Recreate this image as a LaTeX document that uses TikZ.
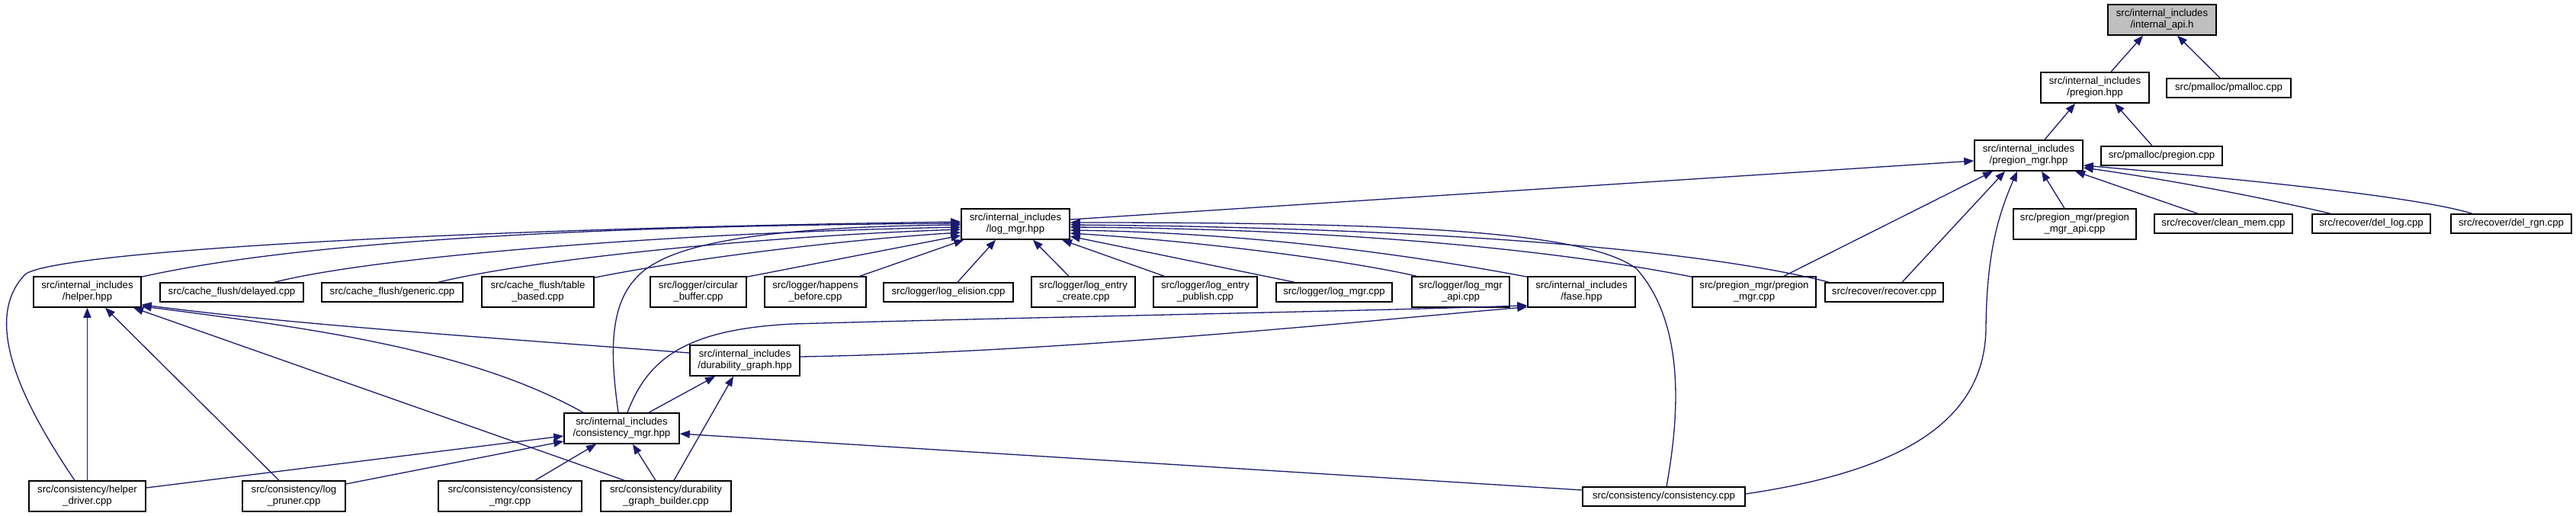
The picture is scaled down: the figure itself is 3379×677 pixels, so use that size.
\documentclass[tikz,border=0pt]{standalone}
\usepackage{fontspec}
\setmainfont{Liberation Sans}
\usetikzlibrary{arrows.meta}
\definecolor{edgeblue}{RGB}{25,25,112}
\definecolor{hilite}{RGB}{191,191,191}
\tikzset{
  box/.style={draw=black, line width=1.5pt, fill=white, inner sep=0pt, align=center,
    font=\fontsize{13.2}{15}\selectfont, minimum height=40pt},
  onebox/.style={box, minimum height=25pt},
  edge/.style={draw=edgeblue, line width=1.3pt, -{Triangle[length=13pt,width=10pt]}},
}
\begin{document}
\begin{tikzpicture}[x=1pt,y=-1pt]
\useasboundingbox (0,0) rectangle (3379,677);
\fill[white] (0,0) rectangle (3379,677);

% nodes
\node[box, fill=hilite, minimum width=142pt] (api) at (2836,26) {src/internal\_includes\\/internal\_api.h};
\node[box, minimum width=142pt] (pregion) at (2748,115) {src/internal\_includes\\/pregion.hpp};
\node[onebox, minimum width=163pt] (pmalloc) at (2923.5,115.5) {src/pmalloc/pmalloc.cpp};
\node[box, minimum width=142pt] (pmgr) at (2661,204) {src/internal\_includes\\/pregion\_mgr.hpp};
\node[onebox, minimum width=159pt] (pmpregion) at (2835.5,204.5) {src/pmalloc/pregion.cpp};
\node[box, minimum width=142pt] (logmgr) at (1332,294) {src/internal\_includes\\/log\_mgr.hpp};
\node[box, minimum width=161pt] (pmgrapi) at (2721.5,294) {src/pregion\_mgr/pregion\\\_mgr\_api.cpp};
\node[onebox, minimum width=181pt] (cleanmem) at (2916.5,293.5) {src/recover/clean\_mem.cpp};
\node[onebox, minimum width=155pt] (dellog) at (3110.5,293.5) {src/recover/del\_log.cpp};
\node[onebox, minimum width=158pt] (delrgn) at (3294,293.5) {src/recover/del\_rgn.cpp};

\node[box, minimum width=141pt] (helper) at (114.5,383) {src/internal\_includes\\/helper.hpp};
\node[onebox, minimum width=188pt] (delayed) at (304,383.5) {src/cache\_flush/delayed.cpp};
\node[onebox, minimum width=185pt] (generic) at (514.5,383.5) {src/cache\_flush/generic.cpp};
\node[box, minimum width=147pt] (table) at (705.5,383) {src/cache\_flush/table\\\_based.cpp};
\node[box, minimum width=126pt] (circular) at (916,383) {src/logger/circular\\\_buffer.cpp};
\node[box, minimum width=133pt] (happens) at (1069.5,383) {src/logger/happens\\\_before.cpp};
\node[onebox, minimum width=170pt] (elision) at (1244,383.5) {src/logger/log\_elision.cpp};
\node[box, minimum width=136pt] (lecreate) at (1421,383) {src/logger/log\_entry\\\_create.cpp};
\node[box, minimum width=136pt] (lepublish) at (1581,383) {src/logger/log\_entry\\\_publish.cpp};
\node[onebox, minimum width=152pt] (logmgrcpp) at (1750,383.5) {src/logger/log\_mgr.cpp};
\node[box, minimum width=128pt] (logmgrapi) at (1916,383) {src/logger/log\_mgr\\\_api.cpp};
\node[box, minimum width=141pt] (fase) at (2074.5,383) {src/internal\_includes\\/fase.hpp};
\node[box, minimum width=162pt] (pmgrcpp) at (2301,383) {src/pregion\_mgr/pregion\\\_mgr.cpp};
\node[onebox, minimum width=155pt] (recover) at (2471.5,383.5) {src/recover/recover.cpp};

\node[box, minimum width=144pt] (durgraph) at (977,473) {src/internal\_includes\\/durability\_graph.hpp};
\node[box, minimum width=151pt] (cmgr) at (815.5,562) {src/internal\_includes\\/consistency\_mgr.hpp};

\node[box, minimum width=153pt] (hdriver) at (114.5,651) {src/consistency/helper\\\_driver.cpp};
\node[box, minimum width=135pt] (lpruner) at (385.5,651) {src/consistency/log\\\_pruner.cpp};
\node[box, minimum width=188pt] (cmgrcpp) at (669,651) {src/consistency/consistency\\\_mgr.cpp};
\node[box, minimum width=171pt] (dgb) at (873.5,651) {src/consistency/durability\\\_graph\_builder.cpp};
\node[onebox, minimum width=213pt] (consist) at (2182.5,651.5) {src/consistency/consistency.cpp};

% edges: top part
\draw[edge] ([xshift=21pt]pregion.north) -- ([xshift=-25pt]api.south);
\draw[edge] ([xshift=-11.5pt]pmalloc.north) -- ([xshift=20pt]api.south);
\draw[edge] ([xshift=21pt]pmgr.north) -- ([xshift=-26pt]pregion.south);
\draw[edge] ([xshift=-12.5pt]pmpregion.north) -- ([xshift=26pt]pregion.south);
\draw[edge] ([yshift=6pt]logmgr.east) -- ([yshift=-7pt]pmgr.west);
\draw[edge] ([xshift=-13.5pt]pmgrapi.north) -- ([xshift=17pt]pmgr.south);
\draw[edge] ([xshift=-33.5pt]cleanmem.north) -- ([xshift=61pt]pmgr.south);
\draw[edge] ([xshift=-53.5pt]dellog.north) .. controls (2950,255) and (2820,232) .. ([yshift=-16pt]pmgr.east);
\draw[edge] ([xshift=-51pt]delrgn.north) .. controls (3170,258) and (2950,236) .. ([yshift=-13pt]pmgr.east);
\draw[edge] ([xshift=39pt]pmgrcpp.north) -- ([xshift=-47pt]pmgr.south);
\draw[edge] ([xshift=23.5pt]recover.north) -- ([xshift=-31pt]pmgr.south);
\draw[edge] ([yshift=3.5pt]consist.east) .. controls (2480,620) and (2604,560) .. (2605,430)
   .. controls (2606,330) and (2622,280) .. ([xshift=-15pt]pmgr.south);

% edges into log_mgr.hpp
\draw[edge] ([xshift=-16.5pt]hdriver.north) .. controls (30,530) and (-25,420) .. (33,360)
   .. controls (70,330) and (600,300) .. ([yshift=3pt]logmgr.west);
\draw[edge] ([yshift=-1pt]helper.north east) .. controls (400,315) and (800,296) .. ([yshift=1pt]logmgr.west);
\draw[edge] ([xshift=-4.5pt]cmgr.north) .. controls (800,460) and (795,380) .. (860,345)
   .. controls (930,305) and (1100,297) .. ([yshift=-1pt]logmgr.west);
\draw[edge] ([xshift=56pt]delayed.north) .. controls (500,335) and (900,305) .. ([yshift=-4pt]logmgr.west);
\draw[edge] ([xshift=60.5pt]generic.north) .. controls (700,340) and (1000,310) .. ([yshift=-7pt]logmgr.west);
\draw[edge] ([yshift=-2pt]table.north east) .. controls (900,340) and (1100,315) .. ([yshift=-11pt]logmgr.west);
\draw[edge] ([yshift=-1pt]circular.north east) -- ([yshift=-15pt]logmgr.west);
\draw[edge] ([xshift=58.5pt]happens.north) -- ([xshift=4pt]logmgr.south west);
\draw[edge] ([xshift=12pt]elision.north) -- ([xshift=-26pt]logmgr.south);
\draw[edge] ([xshift=-19pt]lecreate.north) -- ([xshift=23pt]logmgr.south);
\draw[edge] ([xshift=-54pt]lepublish.north) -- ([xshift=61pt]logmgr.south);
\draw[edge] ([xshift=-52pt]logmgrcpp.north) -- ([yshift=-16pt]logmgr.east);
\draw[edge] ([xshift=-58pt]logmgrapi.north) .. controls (1750,338) and (1550,315) .. ([yshift=-12pt]logmgr.east);
\draw[edge] ([yshift=-1pt]fase.north west) .. controls (1800,325) and (1600,305) .. ([yshift=-8pt]logmgr.east);
\draw[edge] ([yshift=-1pt]pmgrcpp.north west) .. controls (2000,320) and (1700,300) .. ([yshift=-4pt]logmgr.east);
\draw[edge] ([xshift=6pt]recover.north west) .. controls (2200,320) and (1800,298) .. ([yshift=-1pt]logmgr.east);
\draw[edge] ([xshift=3.5pt]consist.north) .. controls (2200,560) and (2215,430) .. (2147,353)
   .. controls (2080,300) and (1800,292) .. ([yshift=2pt]logmgr.east);

% edges into helper.hpp
\draw[edge] (hdriver.north) -- (helper.south);
\draw[edge] ([xshift=-19.5pt]lpruner.north) -- ([xshift=23.5pt]helper.south);
\draw[edge] ([xshift=-50.5pt]cmgr.north) .. controls (620,460) and (420,432) .. ([yshift=2pt]helper.south east);
\draw[edge] ([xshift=-54.5pt]dgb.north) -- ([xshift=60.5pt]helper.south);
\draw[edge] ([yshift=10pt]durgraph.west) .. controls (600,440) and (380,425) .. ([yshift=4pt]helper.south east);

% edges into durability_graph.hpp and fase.hpp
\draw[edge] ([xshift=35.5pt]cmgr.north) -- ([xshift=-39pt]durgraph.south);
\draw[edge] ([xshift=10.5pt]dgb.north) -- ([xshift=-15pt]durgraph.south);
\draw[edge] ([yshift=5pt]durgraph.east) .. controls (1400,462) and (1800,420) .. ([yshift=1pt]fase.south west);
\draw[edge] ([xshift=7.5pt]cmgr.north) .. controls (850,470) and (900,432) .. (1040,425)
   .. controls (1400,415) and (1800,408) .. ([yshift=3pt]fase.south west);

% edges into consistency_mgr.hpp
\draw[edge] ([yshift=11pt]hdriver.east) -- ([yshift=-10pt]cmgr.west);
\draw[edge] ([yshift=16pt]lpruner.east) -- ([yshift=-17pt]cmgr.west);
\draw[edge] ([xshift=33pt]cmgrcpp.north) -- ([xshift=-33.5pt]cmgr.south);
\draw[edge] ([xshift=-13.5pt]dgb.north) -- ([xshift=14.5pt]cmgr.south);
\draw[edge] ([yshift=8.5pt]consist.west) -- ([yshift=-7pt]cmgr.east);
\end{tikzpicture}
\end{document}
